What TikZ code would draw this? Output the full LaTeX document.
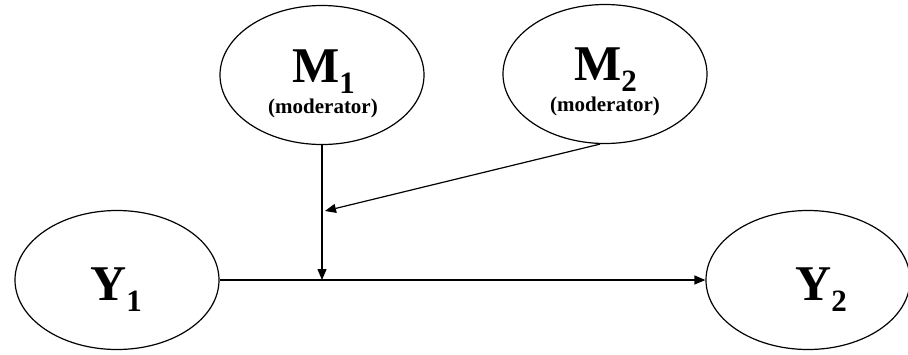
\documentclass[tikz,border=0pt]{standalone}
\usepackage{fontspec}
\setmainfont{Liberation Serif}
\usetikzlibrary{shapes,arrows.meta,positioning}
\newcommand\varfont{\fontsize{50bp}{60bp}\selectfont\bfseries}
\newcommand\subfont{\fontsize{31bp}{36bp}\selectfont\bfseries}
\newcommand\modfont{\fontsize{21bp}{25bp}\selectfont\bfseries}
\newcommand\varname[2]{#1\raisebox{-11bp}[\height][2bp]{\subfont #2}}

\begin{document}
\begin{tikzpicture}[x=1bp,y=-1bp,
    latent/.style={draw, ellipse, line width=1.2bp, minimum width=204bp, minimum height=139bp, inner sep=0pt},
    lbl/.style={inner sep=0pt, font=\varfont},
    modlbl/.style={inner sep=0pt, anchor=base, font=\modfont},
    path/.style={line width=1.2bp, -{Triangle[length=11bp,width=9bp]}}]
    \useasboundingbox (0,0) rectangle (908,354);
    \node[latent] (y1) at (117,280) {};
    \node[latent] (y2) at (808,280) {};
    \node[latent] (m1) at (322,75) {};
    \node[latent] (m2) at (605,74) {};
    \node[lbl, anchor=base west] (y1lbl) at (90,300) {\varname{Y}{1}};
    \node[lbl, anchor=base west] (y2lbl) at (795,300) {\varname{Y}{2}};
    \node[lbl, anchor=base west] (m1lbl) at (292,82) {\varname{M}{1}};
    \node[lbl, anchor=base west] (m2lbl) at (574,80) {\varname{M}{2}};
    \node[modlbl] (m1mod) at (323,113) {(moderator)};
    \node[modlbl] (m2mod) at (605,111) {(moderator)};
    \coordinate (hit) at (y1.east -| m1.south);
    \coordinate (join) at ([xshift=3bp]m1.south |- 0,211);
    \draw[path] (y1.east) -- (y2.west);
    \draw[path] (m1.south) -- (hit);
    \draw[path] ([xshift=-5bp]m2.south) -- (join);
\end{tikzpicture}
\end{document}
